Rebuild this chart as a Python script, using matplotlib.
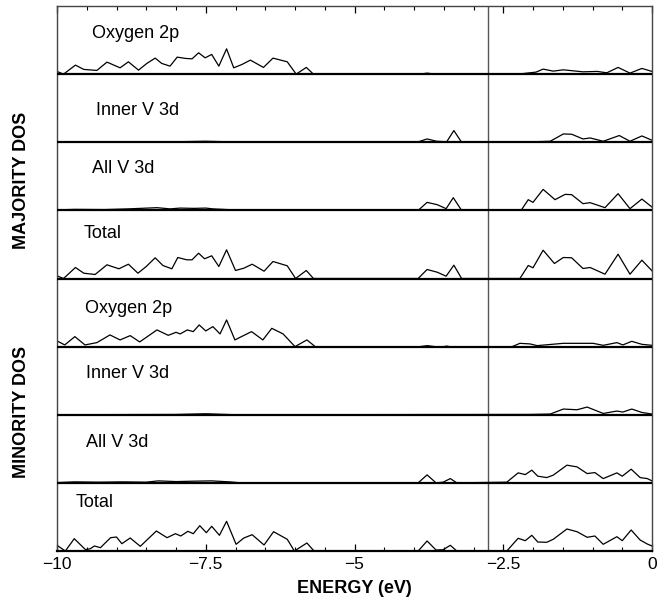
"""
Majority / minority spin DOS, stacked panels (O 2p, inner V 3d, all V 3d, total)
"""
import matplotlib
matplotlib.use("Agg")
import matplotlib.pyplot as plt
from matplotlib.ticker import MultipleLocator

plt.rcParams["font.family"] = ["Liberation Sans", "DejaVu Sans"]

# energy (eV) and DOS (arb. units), one pair per panel
maj_o2p_e = [-10, -9.89, -9.69, -9.55, -9.33, -9.16, -8.94, -8.80, -8.63, -8.49,
             -8.35, -8.24, -8.10, -7.98, -7.84, -7.73, -7.62, -7.51, -7.40, -7.28,
             -7.15, -7.03, -6.89, -6.75, -6.53, -6.37, -6.13, -5.98, -5.81, -5.69,
             -3.90, -3.78, -3.65, -2.25, -2.10, -1.95, -1.83, -1.66, -1.49, -1.16,
             -0.92, -0.76, -0.57, -0.37, -0.17, 0]
maj_o2p = [2.7, 0, 9, 4.7, 3.7, 12, 6.3, 12.3, 4, 10.7,
           16, 10.7, 8, 17, 15.7, 15.3, 21.3, 16.3, 19.7, 8,
           25.3, 6.3, 9.7, 14, 6.7, 16, 12.3, 0, 6.7, 0,
           0, 1, 0, 0, 1, 2, 5, 3, 4.3, 2.3,
           2.7, 1.3, 6.7, 1, 5.7, 2.7]

maj_inner_e = [-10, -8.0, -7.5, -7.0, -3.95, -3.78, -3.62, -3.45, -3.33, -3.20,
               -2.25, -1.71, -1.49, -1.35, -1.16, -1.04, -0.82, -0.55, -0.37, -0.17, 0]
maj_inner = [0.3, 0.5, 1, 0.3, 0, 3.3, 1, 0.5, 11.7, 0,
             0, 1, 8.3, 8, 3.3, 4.3, 1, 6.7, 1, 6.3, 2]

maj_allv_e = [-10, -9.7, -9.2, -8.8, -8.32, -8.1, -7.93, -7.7, -7.5, -7.38, -7.1, -6.8,
              -3.93, -3.78, -3.61, -3.46, -3.34, -3.20,
              -2.20, -2.08, -2.00, -1.83, -1.63, -1.46, -1.35, -1.16, -1.04, -0.79,
              -0.57, -0.37, -0.17, 0]
maj_allv = [0.5, 1, 0.8, 1.5, 2.7, 1.5, 2.3, 2, 2.3, 1.5, 0.7, 0,
            0, 8, 5.7, 1.7, 12.7, 0,
            0, 10.7, 8, 21, 10.7, 16, 15.7, 6.7, 7.7, 2.7,
            16.7, 1.7, 11.3, 3.3]

maj_tot_e = [-10, -9.89, -9.69, -9.55, -9.36, -9.16, -8.96, -8.80, -8.64, -8.50,
             -8.35, -8.22, -8.07, -7.97, -7.82, -7.73, -7.62, -7.52, -7.40, -7.28,
             -7.15, -7.00, -6.86, -6.72, -6.52, -6.37, -6.13, -5.99, -5.81, -5.69,
             -3.93, -3.78, -3.61, -3.46, -3.33, -3.20,
             -2.22, -2.08, -2.00, -1.83, -1.64, -1.49, -1.35, -1.16, -1.04, -0.79,
             -0.57, -0.37, -0.17, 0]
maj_tot = [2.7, 0, 11, 5.3, 4, 13.7, 9.7, 14.3, 5.3, 12,
           20.7, 13, 9.7, 21, 18.7, 18.7, 25.3, 19.7, 22.7, 12,
           28.7, 8, 10.3, 14.3, 7.3, 17, 12.7, 0, 8, 0,
           0, 9, 6.3, 2.3, 13.3, 0,
           0, 13, 10.7, 28.3, 15, 21, 20.7, 10, 11, 4.3,
           24.3, 4.3, 18.3, 7.7]

min_o2p_e = [-10, -9.87, -9.70, -9.53, -9.33, -9.11, -8.94, -8.77, -8.61, -8.32,
             -8.13, -8.00, -7.93, -7.81, -7.71, -7.61, -7.50, -7.38, -7.26, -7.15,
             -7.01, -6.90, -6.73, -6.54, -6.39, -6.20, -6.00, -5.80, -5.66,
             -3.90, -3.78, -3.65, -3.50, -3.45, -3.40,
             -2.35, -2.22, -2.05, -1.93, -1.49, -1.16, -0.99, -0.82, -0.59, -0.49,
             -0.34, -0.17, 0]
min_o2p = [5.7, 1.7, 10, 1.7, 4, 11.7, 6.7, 11, 4.7, 16.7,
           11.3, 14.3, 12.7, 16.7, 15, 21.7, 15.7, 20, 12.7, 26.7,
           6.7, 10, 15, 6.7, 18.3, 12.7, 0, 6.7, 0,
           0, 1, 0, 0, 0.5, 0,
           0, 3.3, 2.7, 1, 3.3, 3.3, 3.3, 1.3, 4, 1.7,
           5.3, 2.3, 1.3]

min_inner_e = [-10, -8.0, -7.5, -7.0, -2.05, -1.71, -1.49, -1.26, -1.09, -0.82,
               -0.59, -0.49, -0.34, -0.17, 0]
min_inner = [0, 0.3, 1, 0, 0.3, 0.7, 5.7, 5, 7.7, 1.3,
             3.7, 2.7, 5.7, 2.3, 0.7]

min_allv_e = [-10, -9.7, -9.3, -8.9, -8.5, -8.3, -8.0, -7.7, -7.4, -7.1, -6.9,
              -3.93, -3.78, -3.63, -3.51, -3.39, -3.28,
              -2.44, -2.25, -2.13, -2.02, -1.92, -1.77, -1.66, -1.43, -1.26, -1.09,
              -0.96, -0.82, -0.59, -0.50, -0.35, -0.20, -0.08, 0]
min_allv = [0.3, 1, 0.7, 1, 0.7, 2, 1.3, 1.7, 2, 1, 0,
            0, 8, 0, 0.7, 4.3, 0,
            0.7, 10, 8.3, 12.7, 6.7, 5.3, 7.7, 17.7, 16, 9.3,
            10.3, 4.3, 10, 6.7, 13.7, 5.3, 4.3, 2]

min_tot_e = [-10, -9.86, -9.71, -9.52, -9.44, -9.37, -9.27, -9.10, -9.00, -8.91,
             -8.77, -8.60, -8.33, -8.15, -8.01, -7.92, -7.80, -7.71, -7.60, -7.49,
             -7.40, -7.27, -7.15, -6.99, -6.86, -6.72, -6.52, -6.36, -6.13, -6.01,
             -5.80, -5.68,
             -3.93, -3.78, -3.63, -3.51, -3.39, -3.28,
             -2.44, -2.25, -2.13, -2.02, -1.92, -1.77, -1.66, -1.43, -1.26, -1.09,
             -0.96, -0.82, -0.59, -0.50, -0.35, -0.20, -0.08, 0]
min_tot = [5.7, 0, 12.3, 1.3, 2.3, 5, 3.3, 13.3, 14, 7.3,
           13, 4.7, 20, 13.3, 17.3, 15, 19.7, 17.3, 25.3, 18.3,
           24.7, 15.7, 29.7, 6.7, 13, 16.3, 6, 19.3, 11.7, 0,
           8, 0,
           0, 10, 1, 1.3, 5.7, 0,
           0, 12.7, 10.3, 15.7, 9, 8.7, 11.7, 22, 19.3, 13.7,
           15, 6.7, 14.3, 10.3, 21, 11, 7, 5]

panel_names = ["Oxygen 2p", "Inner V 3d", "All V 3d", "Total",
               "Oxygen 2p", "Inner V 3d", "All V 3d", "Total"]
x_ticks = [-10, -7.5, -5, -2.5, 0]
x_ticklabels = ["\u221210", "\u22127.5", "\u22125", "\u22122.5", "0"]
fermi_level = -2.75

# top panel first
curves = [(maj_o2p_e, maj_o2p), (maj_inner_e, maj_inner), (maj_allv_e, maj_allv),
          (maj_tot_e, maj_tot), (min_o2p_e, min_o2p), (min_inner_e, min_inner),
          (min_allv_e, min_allv), (min_tot_e, min_tot)]
# label placement: (x in eV, baseline height above panel floor)
label_pos = [(-9.41, 36), (-9.34, 27), (-9.41, 37), (-9.56, 40),
             (-9.53, 34), (-9.51, 37), (-9.51, 36), (-9.68, 44)]

PANEL_H = 68.125
n = len(curves)

fig = plt.figure(figsize=(6.71, 6.02), dpi=100)
ax = fig.add_axes([57 / 671, 51 / 602, 595 / 671, 545 / 602])

for i, ((e, d), name, (lx, ly)) in enumerate(zip(curves, panel_names, label_pos)):
    base = (n - 1 - i) * PANEL_H
    ax.plot(e, [base + v for v in d], color="black", lw=0.9, solid_joinstyle="round")
    ax.text(lx, base + ly, name, fontsize=13, ha="left", va="baseline")
    if i < n - 1:
        ax.axhline(base, color="black", lw=1.6, zorder=3)

ax.axvline(fermi_level, color="#555555", lw=1.0)

ax.set_xlim(-10, 0)
ax.set_ylim(0, n * PANEL_H)
ax.set_yticks([])
ax.set_xticks(x_ticks)
ax.set_xticklabels(x_ticklabels, fontsize=12.5)
ax.xaxis.set_minor_locator(MultipleLocator(0.5))
ax.tick_params(axis="x", which="both", direction="in", top=True, bottom=True, pad=4)
ax.tick_params(axis="x", which="major", length=4.8, width=0.9)
ax.tick_params(axis="x", which="minor", length=2.8, width=0.8)

for side in ["left", "right", "top"]:
    ax.spines[side].set_color("#444444")
    ax.spines[side].set_linewidth(1.0)
ax.spines["bottom"].set_color("black")
ax.spines["bottom"].set_linewidth(1.6)

ax.set_xlabel("ENERGY (eV)", fontsize=13, fontweight="bold", labelpad=6)

fig.text(22 / 671, 1 - 180 / 602, "MAJORITY DOS", rotation=90, fontsize=13,
         fontweight="bold", ha="center", va="center")
fig.text(22 / 671, 1 - 412 / 602, "MINORITY DOS", rotation=90, fontsize=13,
         fontweight="bold", ha="center", va="center")

fig.savefig("out.png", dpi=100)
